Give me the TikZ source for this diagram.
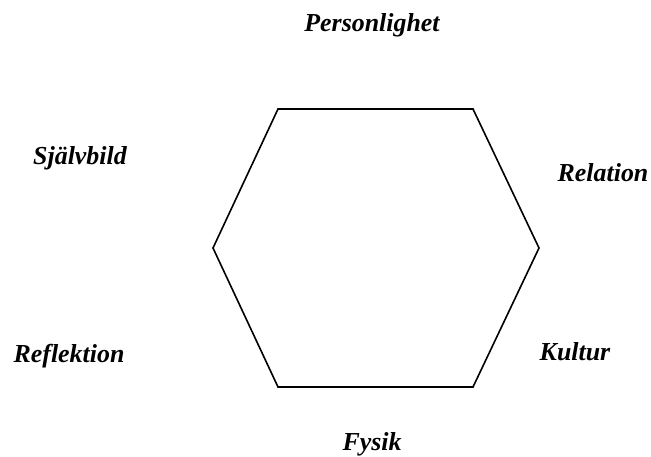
\documentclass[tikz,border=0pt]{standalone}
\usepackage{fontspec}
\setmainfont{Liberation Serif}
\usepackage{tikz}
\usetikzlibrary{positioning}

\begin{document}
\begin{tikzpicture}[
  x=1bp, y=-1bp,
  lbl/.style={anchor=base, inner sep=0pt, font=\fontsize{26}{30}\selectfont\bfseries\itshape},
  edge/.style={draw=black, line width=1.6bp, line join=miter}
]
  \useasboundingbox (0,0) rectangle (651,457);
  % hexagon corners
  \coordinate (tl) at (278,109);
  \coordinate (tr) at (473,109);
  \coordinate (r)  at (539,248);
  \coordinate (br) at (473,387);
  \coordinate (bl) at (278,387);
  \coordinate (l)  at (213,248);
  \draw[edge] (tl) -- (tr) -- (r) -- (br) -- (bl) -- (l) -- cycle;
  % labels
  \node[lbl] (pers) at (372,32)  {Personlighet};
  \node[lbl] (sjalv) at (80,165) {Självbild};
  \node[lbl] (rel)  at (603,182) {Relation};
  \node[lbl] (refl) at (69,362)  {Reflektion};
  \node[lbl] (kult) at (575,360) {Kultur};
  \node[lbl] (fys)  at (372,450) {Fysik};
\end{tikzpicture}
\end{document}
